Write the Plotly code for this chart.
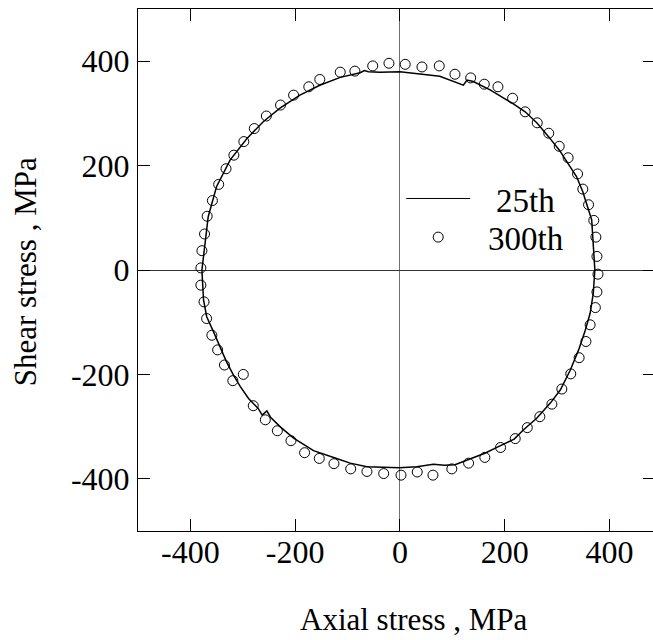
import plotly.graph_objects as go

# 25th cycle: stress path (MPa), counter-clockwise from the right
axial_25 = [372, 369, 366, 360, 349, 337, 321, 304, 284, 262, 239, 215, 172, 140, 128, 121,
            76, 30, 0, -38, -60, -68, -76, -114, -153, -191, -229, -261, -292, -324, -350,
            -366, -374, -378, -375, -369, -356, -343, -331, -318, -305, -289, -270, -263,
            -254, -247, -229, -203, -165, -121, -95, -63, -1, 32, 64, 85, 105, 131, 162, 191,
            218, 236, 261, 287, 306, 325, 341, 353, 363, 369, 372]
shear_25 = [0, 57, 96, 115, 150, 179, 204, 230, 255, 281, 303, 319, 345, 361, 364, 354,
            371, 377, 380, 379, 380, 382, 378, 369, 354, 335, 310, 284, 252, 211, 160,
            102, 38, 0, -57, -89, -118, -147, -176, -201, -223, -246, -266, -278,
            -270, -282, -300, -322, -346, -361, -370, -377, -379, -377, -372, -374, -373, -363, -351, -337,
            -324, -306, -284, -255, -230, -192, -153, -118, -83, -45, 0]

# 300th cycle: measured points
axial_300 = [378, 376, 374, 370, 360, 349, 339, 321, 304, 284, 262, 239, 215, 187, 161, 135,
             105, 75, 42, 10, -21, -52, -86, -114, -153, -174, -203, -228, -255, -278, -298,
             -317, -332, -346, -358, -368, -373, -378, -380, -380, -374, -369, -359, -348,
             -335, -319, -299, -280, -257, -234, -208, -182, -154, -126, -94, -63, -31, 2,
             33, 63, 99, 131, 162, 192, 220, 243, 267, 290, 309, 326, 342, 355, 363, 373, 376]
shear_300 = [-8, 26, 63, 95, 125, 155, 184, 215, 237, 262, 282, 303, 329, 351, 356, 368,
             375, 391, 389, 394, 396, 391, 381, 379, 365, 351, 335, 316, 295, 271, 246,
             220, 194, 164, 133, 103, 69, 37, 4, -29, -61, -93, -125, -153,
             -182, -212, -200, -260, -287, -308, -327, -350, -361, -371, -381, -386, -390, -393,
             -387, -393, -381, -370, -359, -340, -323, -302, -281, -257, -228, -199, -168, -137, -105, -72, -42]

series_names = ["25th", "300th"]
tick_vals = [-400, -200, 0, 200, 400]
tick_text = ["-400", "-200", "0", "200", "400"]

FONT = "Liberation Serif"

fig = go.Figure()

fig.add_trace(go.Scatter(
    x=axial_25, y=shear_25, mode="lines", name=series_names[0],
    line=dict(color="black", width=1.5),
))
fig.add_trace(go.Scatter(
    x=axial_300, y=shear_300, mode="markers", name=series_names[1],
    marker=dict(symbol="circle-open", size=10, color="black", line=dict(width=1)),
))

# hand-drawn legend, as in the original
fig.add_shape(type="line", xref="x", yref="y", x0=12, x1=134, y0=137, y1=137,
              line=dict(color="black", width=1))
fig.add_shape(type="circle", xref="x", yref="y", xsizemode="pixel", ysizemode="pixel",
              xanchor=73, yanchor=63, x0=-5, x1=5, y0=-5, y1=5,
              line=dict(color="black", width=1))
fig.add_annotation(x=240, y=132, xref="x", yref="y", text=series_names[0], showarrow=False,
                   xanchor="center", yanchor="middle", font=dict(family=FONT, size=33, color="black"))
fig.add_annotation(x=240, y=60, xref="x", yref="y", text=series_names[1], showarrow=False,
                   xanchor="center", yanchor="middle", font=dict(family=FONT, size=33, color="black"))

# axis titles
fig.add_annotation(x=0.535, y=-0.17, xref="paper", yref="paper", text="Axial stress , MPa",
                   showarrow=False, xanchor="center", yanchor="middle",
                   font=dict(family=FONT, size=31, color="black"))
fig.add_annotation(x=-0.218, y=0.497, xref="paper", yref="paper", text="Shear stress , MPa",
                   showarrow=False, textangle=-90, xanchor="center", yanchor="middle",
                   font=dict(family=FONT, size=31, color="black"))

fig.update_layout(
    width=653, height=640,
    margin=dict(l=138, r=0, t=9, b=109),
    paper_bgcolor="white", plot_bgcolor="white",
    showlegend=False,
    font=dict(family=FONT, size=32, color="black"),
)
fig.update_xaxes(
    range=[-500, 483], tickvals=tick_vals, ticktext=tick_text,
    ticks="inside", ticklen=12, tickcolor="black",
    showline=True, linecolor="black", linewidth=1, mirror="ticks",
    showgrid=False, zeroline=True, zerolinecolor="#707070", zerolinewidth=1,
    ticklabelstandoff=-7, automargin=False,
)
fig.update_yaxes(
    range=[-500, 500], tickvals=tick_vals, ticktext=tick_text,
    ticks="inside", ticklen=12, tickcolor="black",
    showline=True, linecolor="black", linewidth=1,
    showgrid=False, zeroline=True, zerolinecolor="#333333", zerolinewidth=1,
    ticklabelstandoff=1, automargin=False,
)
# right-hand tick stubs (the right frame edge falls outside the picture)
fig.update_layout(yaxis2=dict(
    overlaying="y", side="right", matches="y", range=[-500, 500], tickvals=tick_vals,
    ticks="inside", ticklen=10, tickcolor="black", showticklabels=False,
    showline=False, showgrid=False, zeroline=False, automargin=False,
))
fig.add_trace(go.Scatter(x=[None], y=[None], yaxis="y2", showlegend=False, hoverinfo="skip"))

fig.write_html("out.html", config={"displayModeBar": False},
               post_script="document.body.style.margin='0';")
